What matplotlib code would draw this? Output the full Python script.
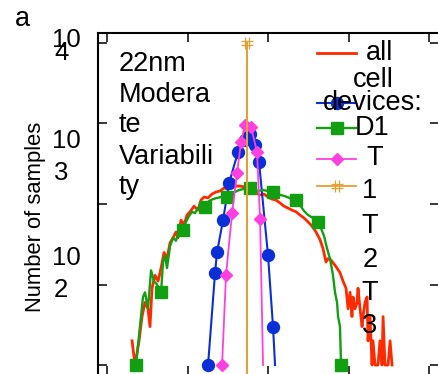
import matplotlib
matplotlib.use("Agg")
import matplotlib.pyplot as plt
from matplotlib.lines import Line2D
from matplotlib.path import Path
from matplotlib.ticker import NullLocator

plt.rcParams['font.family'] = ['Liberation Sans', 'DejaVu Sans']

# ---------------- data ----------------
series_labels = ["all cell devices:", "D1", "T1", "T2", "T3"]

all_x = [0.311, 0.348, 0.398, 0.435, 0.472, 0.509, 0.534, 0.559, 0.596, 0.634,
         0.671, 0.708, 0.745, 0.783, 0.820, 0.857, 0.882, 0.919, 0.957, 0.994,
         1.031, 1.081, 1.130, 1.168, 1.205, 1.255, 1.304, 1.354, 1.404, 1.453,
         1.503, 1.553, 1.602, 1.652, 1.702, 1.752, 1.801, 1.851, 1.901, 1.950,
         2.000, 2.050, 2.099, 2.149, 2.199, 2.248, 2.298, 2.348, 2.397, 2.447,
         2.497, 2.547, 2.596, 2.646, 2.683, 2.720, 2.745, 2.783, 2.820, 2.857,
         2.894, 2.932, 2.969, 2.994, 3.019, 3.043, 3.056, 3.081, 3.106, 3.118,
         3.143, 3.168, 3.180, 3.205, 3.230, 3.242, 3.267, 3.292, 3.304, 3.329,
         3.366, 3.391, 3.416, 3.429, 3.453, 3.491, 3.516, 3.540]
all_y = [2, 1, 2, 4, 6, 5, 3, 9, 13, 11,
         16, 25, 21, 33, 38, 45, 38, 63, 55, 73,
         80, 94, 84, 112, 122, 119, 133, 141, 145, 158,
         153, 163, 167, 167, 163, 158, 149, 137, 129, 133,
         122, 115, 112, 103, 94, 89, 84, 80, 73, 67,
         60, 53, 45, 36, 28, 19, 21, 20, 18, 16,
         14, 11, 9, 5, 8, 4, 7, 5, 6, 9,
         5, 3, 4, 6, 7, 2, 4, 1, 2, 1,
         1, 2, 1, 4, 1, 1, 2, 1]

d1_x = [1.255, 1.342, 1.366, 1.441, 1.516, 1.627, 1.714, 1.776, 1.838, 1.888,
        2.000, 2.062, 2.087]
d1_y = [1, 14, 25, 63, 182, 443, 624, 741, 541, 333, 23, 3, 1]

t1_x = [0.360, 0.447, 0.472, 0.509, 0.547, 0.584, 0.621, 0.671, 0.696, 0.720,
        0.745, 0.783, 0.820, 0.857, 0.894, 0.944, 0.981, 1.019, 1.056, 1.093,
        1.130, 1.168, 1.217, 1.267, 1.317, 1.366, 1.416, 1.491, 1.540, 1.590,
        1.640, 1.689, 1.776, 1.826, 1.876, 1.938, 2.000, 2.062, 2.112, 2.161,
        2.211, 2.273, 2.348, 2.397, 2.447, 2.497, 2.559, 2.621, 2.658, 2.696,
        2.733, 2.770, 2.807, 2.832, 2.857, 2.870, 2.894, 2.907]
t1_y = [1, 7, 8, 5, 15, 11, 10, 8, 19, 23,
        16, 30, 38, 35, 47, 48, 60, 71, 80, 77,
        89, 94, 92, 109, 115, 119, 122, 122, 129, 141,
        149, 153, 158, 153, 145, 149, 145, 141, 133, 129,
        125, 118, 112, 97, 82, 73, 67, 60, 50, 40,
        28, 21, 13, 8, 6, 4, 3, 1]
t1_marks = [0, 7, 15, 22, 27, 32, 37, 42, 47, 57]

t2_x = [1.429, 1.478, 1.553, 1.615, 1.665, 1.714, 1.789, 1.863, 1.901, 1.938]
t2_y = [1, 13, 77, 243, 589, 957, 905, 443, 65, 1]

t3_x = [1.739, 1.739, 1.739]
t3_y = [0.1, 10000, 0.1]

x_ticks = [0, 1, 2, 3, 4]
y_ticks = [1, 10, 100, 1000, 10000]
y_tick_texts = [("10", "4"), ("10", "3"), ("10", "2")]
note_lines = ["22nm", "Modera", "te", "Variabili", "ty"]
legend_lines = ["all", "cell", "devices:", "D1", "T", "1", "T", "2", "T", "3"]

# ---------------- style ----------------
C_RED = "#FF2A00"
C_BLUE = "#0A2FD6"
C_GREEN = "#12A012"
C_PINK = "#FF40E0"
C_ORANGE = "#E6A032"

sharp = Path([(-1, -0.38), (1, -0.38), (-1, 0.38), (1, 0.38),
              (-0.38, -1), (-0.38, 1), (0.38, -1), (0.38, 1)],
             [Path.MOVETO, Path.LINETO] * 4)

styles = [
    dict(color=C_RED, lw=2.0),
    dict(color=C_BLUE, lw=1.5, marker='o', ms=8.6, mec=C_BLUE, mfc=C_BLUE,
         markevery=list(range(len(d1_x) - 1))),
    dict(color=C_GREEN, lw=1.7, marker='s', ms=9.2, mec=C_GREEN, mfc=C_GREEN,
         markevery=t1_marks),
    dict(color=C_PINK, lw=1.3, marker='D', ms=5.8, mec=C_PINK, mfc=C_PINK,
         markevery=list(range(len(t2_x) - 1))),
    dict(color=C_ORANGE, lw=1.3, marker=sharp, ms=8, mec=C_ORANGE, mew=0.9,
         markevery=[1]),
]

W, H = 438, 374
fig = plt.figure(figsize=(W / 100, H / 100), dpi=100)


def fx(px):
    return px / W


def fy(py):
    return 1 - py / H


L, R, T, B = 98, 439.5, 33, 375.5
ax = fig.add_axes([fx(L), fy(B), (R - L) / W, (B - T) / H])
ax.set_yscale('log')

data = [(all_x, all_y), (d1_x, d1_y), (t1_x, t1_y), (t2_x, t2_y), (t3_x, t3_y)]
for (xs, ys), st, lab in zip(data, styles, series_labels):
    ax.plot(xs, ys, label=lab, **st)

ax.set_xlim(-0.112, 4.130)
ax.set_ylim(10 ** -0.130, 10 ** 4.124)
ax.set_xticks(x_ticks)
ax.set_yticks(y_ticks)
ax.yaxis.set_minor_locator(NullLocator())
ax.xaxis.set_minor_locator(NullLocator())
ax.tick_params(which='both', direction='in', top=True, right=True,
               bottom=True, left=True, labelleft=False, labelbottom=False,
               length=6.5, width=1.1, color='black')
for sp in ax.spines.values():
    sp.set_linewidth(1.5)

# y tick label texts (rendered as broken two-line labels)
for (base, exp), (yb, ye) in zip(y_tick_texts, [(47, 60), (148, 180), (265, 297)]):
    fig.text(fx(52.5), fy(yb), base, fontsize=18.5, ha='left', va='baseline')
    fig.text(fx(54), fy(ye), exp, fontsize=18.5, ha='left', va='baseline')

fig.text(fx(36), fy(217), "Number of samples", rotation=90, fontsize=15.8,
         ha='center', va='center')
fig.text(fx(15), fy(26), "a", fontsize=19.5, ha='left', va='baseline')

for line, yb in zip(note_lines, [71, 102, 132, 164, 194]):
    fig.text(fx(118.5), fy(yb), line, fontsize=19.5, ha='left', va='baseline')

# legend handles
for st, yy in zip(styles, [53, 103, 128, 159, 186]):
    kw = dict(st)
    kw.pop('markevery', None)
    fig.add_artist(Line2D([fx(317), fx(336.5), fx(356)], [fy(yy)] * 3,
                          transform=fig.transFigure, markevery=[1], **kw))

leg_pos = [(380, 60), (373, 87), (373, 110), (372, 135), (375, 165),
           (370, 198), (370, 233), (370, 267), (370, 300), (370, 333)]
for line, (xx, yb) in zip(legend_lines, leg_pos):
    fig.text(fx(xx), fy(yb), line, fontsize=19.5, ha='center', va='baseline')

fig.savefig("out.png", dpi=100)
